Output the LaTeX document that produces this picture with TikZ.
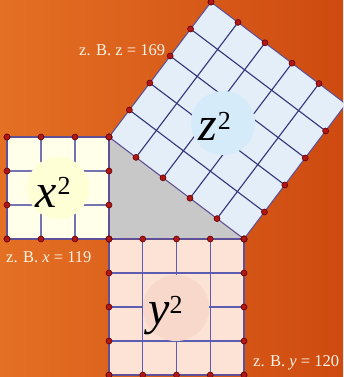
\documentclass[tikz,border=0pt]{standalone}
\usepackage{fontspec}
\setmainfont{Liberation Serif}
\usetikzlibrary{calc}
\definecolor{bgA}{RGB}{228,112,36}
\definecolor{bgB}{RGB}{206,74,16}
\definecolor{txtc}{RGB}{255,244,232}
\definecolor{xfill}{RGB}{255,255,234}
\definecolor{xcirc}{RGB}{255,255,214}
\definecolor{yfill}{RGB}{252,227,214}
\definecolor{ycirc}{RGB}{247,216,202}
\definecolor{zfill}{RGB}{228,238,249}
\definecolor{zcirc}{RGB}{214,235,250}
\definecolor{xline}{RGB}{116,116,176}
\definecolor{yline}{RGB}{92,92,176}
\definecolor{zline}{RGB}{52,52,122}
\definecolor{edgec}{RGB}{96,80,150}
\definecolor{dotc}{RGB}{176,24,24}
\definecolor{dotb}{RGB}{100,0,0}
\definecolor{trig}{RGB}{200,200,200}
\tikzset{
  dotmark/.style={circle,fill=dotc,draw=dotb,line width=0.6pt,inner sep=0pt,minimum size=6pt},
  note/.style={anchor=base west,inner sep=0pt,text=txtc,font=\fontsize{16.5}{18}\selectfont},
  biglabel/.style={anchor=base west,inner sep=0pt,text=black},
  gridx/.style={draw=xline,line width=1.3pt},
  gridy/.style={draw=yline,line width=1.3pt},
  gridz/.style={draw=zline,line width=1.1pt},
}
\newcommand{\bigsq}[3]{{\fontsize{48}{48}\selectfont\itshape #1}\kern#3\raisebox{#2}{\fontsize{26}{26}\selectfont 2}}
\begin{document}
\begin{tikzpicture}[x=1pt,y=-1pt]
\useasboundingbox (0,0) rectangle (343,377);
\clip (0,0) rectangle (343,377);
\shade[left color=bgA,right color=bgB] (0,0) rectangle (343,377);
% triangle vertices
\coordinate (P) at (109,137);
\coordinate (Q) at (109,239);
\coordinate (R) at (244,239);
\coordinate (D) at ($(P)+(102,-135)$);
\coordinate (C) at ($(R)+(102,-135)$);
\coordinate (XA) at (7,137);
\coordinate (XB) at (7,239);
\coordinate (YA) at (109,375);
\coordinate (YB) at (244,375);
% triangle
\fill[trig] (P) -- (Q) -- (R) -- cycle;
% x square
\fill[xfill] (XA) rectangle (Q);
\foreach \i in {1,2} {
  \draw[gridx] ($(XA)!\i/3!(P)$) -- ($(XB)!\i/3!(Q)$);
  \draw[gridx] ($(XA)!\i/3!(XB)$) -- ($(P)!\i/3!(Q)$);
}
\fill[xcirc] (58,188) circle (31);
\draw[draw=edgec,line width=1.2pt] (XA) rectangle (Q);
% y square
\fill[yfill] (Q) rectangle (YB);
\foreach \i in {1,2,3} {
  \draw[gridy] ($(Q)!\i/4!(R)$) -- ($(YA)!\i/4!(YB)$);
  \draw[gridy] ($(Q)!\i/4!(YA)$) -- ($(R)!\i/4!(YB)$);
}
\fill[ycirc] (176,308) circle (33);
\draw[draw=edgec,line width=1.2pt] (Q) rectangle (YB);
% z square
\fill[zfill,rounded corners=4pt] (P) -- (R) -- (C) -- (D) -- cycle;
\foreach \i in {1,2,3,4} {
  \draw[gridz] ($(P)!\i/5!(R)$) -- ($(D)!\i/5!(C)$);
  \draw[gridz] ($(P)!\i/5!(D)$) -- ($(R)!\i/5!(C)$);
}
\fill[zcirc] (223,123) circle (32);
\draw[draw=edgec,line width=1.1pt,rounded corners=4pt] (P) -- (R) -- (C) -- (D) -- cycle;
% dots
\foreach \i in {0,1,2,3} {
  \node[dotmark] at ($(XA)!\i/3!(P)$) {};
  \node[dotmark] at ($(XB)!\i/3!(Q)$) {};
  \node[dotmark] at ($(XA)!\i/3!(XB)$) {};
  \node[dotmark] at ($(P)!\i/3!(Q)$) {};
}
\foreach \i in {0,1,2,3,4} {
  \node[dotmark] at ($(Q)!\i/4!(R)$) {};
  \node[dotmark] at ($(YA)!\i/4!(YB)$) {};
  \node[dotmark] at ($(Q)!\i/4!(YA)$) {};
  \node[dotmark] at ($(R)!\i/4!(YB)$) {};
}
\foreach \i in {0,1,2,3,4,5} {
  \node[dotmark] at ($(P)!\i/5!(R)$) {};
  \node[dotmark] at ($(P)!\i/5!(D)$) {};
}
\foreach \i in {0,1,2,3,4} {
  \node[dotmark] at ($(D)!\i/5!(C)$) {};
  \node[dotmark] at ($(R)!\i/5!(C)$) {};
}
% labels
\node[biglabel] (lx) at (35,207) {\bigsq{x}{13pt}{1pt}};
\node[biglabel] (ly) at (148,324) {\bigsq{y}{11pt}{0pt}};
\node[biglabel] (lz) at (198,140) {\bigsq{z}{11pt}{1pt}};
% notes
\node[note] (nz) at (79,56) {z. B. z = 169};
\node[note] (nx) at (6,262) {z. B. \textit{x} = 119};
\node[note] (ny) at (253,366) {z. B. \textit{y} = 120};
\end{tikzpicture}
\end{document}
